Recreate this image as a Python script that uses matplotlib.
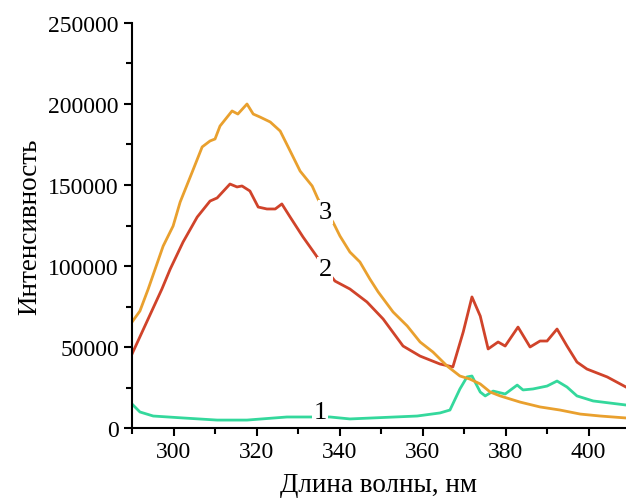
import numpy as np
import matplotlib.pyplot as plt
from matplotlib.ticker import MultipleLocator

plt.rcParams['font.family'] = ['Liberation Serif', 'DejaVu Serif']

# curve 1 (green)
wl1 = [290.0, 291.9, 295.1, 302.3, 310.5, 317.7, 327.3, 332.9, 335.3, 337.7, 342.5,
       358.7, 364.2, 366.6, 369.0, 370.7, 371.9, 373.9, 375.1, 377.0, 379.9, 382.8,
       384.2, 386.6, 390.0, 392.4, 394.8, 397.2, 401.1, 409.0]
int1 = [14800, 9900, 7400, 6200, 4900, 4900, 6800, 6800, 6800, 6800, 5600,
        7400, 9300, 11100, 24100, 31500, 32100, 22200, 19800, 22800, 21000, 26500,
        23500, 24100, 25900, 29000, 25300, 19800, 16700, 14200]

# curve 2 (red)
wl2 = [290.0, 297.2, 299.2, 302.3, 305.7, 308.8, 310.5, 313.6, 315.3, 316.5, 318.4,
       320.4, 322.5, 324.5, 326.1, 328.1, 331.2, 334.1, 336.5, 338.9, 342.5, 346.6,
       350.5, 355.3, 359.4, 364.2, 367.3, 369.8, 371.9, 373.9, 375.8, 378.2, 379.9,
       383.0, 385.9, 388.3, 390.0, 392.4, 394.8, 397.2, 399.6, 404.5, 409.0]
int2 = [45700, 85800, 98100, 114800, 130200, 140100, 142000, 150600, 148800, 149400, 146300,
        136400, 135200, 135200, 138300, 130200, 117900, 107400, 98500, 90700, 85800, 77800,
        67300, 50600, 44400, 39500, 37700, 59300, 80900, 69100, 48800, 53100, 50600,
        62300, 50000, 53700, 53700, 61100, 50600, 40700, 36400, 31500, 25300]

# curve 3 (orange)
wl3 = [290.0, 291.9, 293.9, 297.5, 299.9, 301.6, 304.5, 306.9, 308.8, 310.0, 311.2,
       314.1, 315.5, 317.7, 319.2, 320.8, 323.3, 325.7, 328.1, 330.5, 333.4, 334.8,
       336.5, 338.4, 340.1, 342.5, 344.9, 347.3, 349.3, 352.9, 356.3, 359.4, 362.5,
       365.9, 369.0, 371.4, 373.9, 376.3, 378.7, 383.5, 388.3, 393.1, 398.0, 402.8, 409.0]
int3 = [65400, 72200, 85800, 112300, 124700, 139500, 158000, 173500, 177200, 178400, 186400,
        195700, 193800, 200000, 193800, 192000, 188900, 183300, 171000, 158600, 149400, 141400,
        134000, 127200, 118500, 108600, 102500, 92000, 84000, 71600, 63000, 53100, 46900,
        38300, 32100, 30200, 27200, 22200, 19800, 16000, 13000, 11100, 8600, 7400, 6200]

labels = ['1', '2', '3']
label_pos = [(335.3, 9900), (336.5, 98100), (336.6, 133300)]

fig = plt.figure(figsize=(6.26, 5.02), dpi=100)
ax = fig.add_axes([0.2109, 0.1454, 0.789, 0.8068])

ax.plot(wl1, int1, color='#34d89c', lw=2)
ax.plot(wl2, int2, color='#d0432a', lw=2)
ax.plot(wl3, int3, color='#e9a02e', lw=2)

for txt, (x, y) in zip(labels, label_pos):
    ax.text(x, y, txt, fontsize=19, ha='center', va='center',
            bbox=dict(facecolor='white', edgecolor='none', pad=1.0))

ax.set_xlim(290, 409)
ax.set_ylim(0, 250000)
ax.xaxis.set_major_locator(MultipleLocator(20))
ax.xaxis.set_minor_locator(MultipleLocator(10))
ax.yaxis.set_major_locator(MultipleLocator(50000))
ax.yaxis.set_minor_locator(MultipleLocator(25000))

for s in ['top', 'right']:
    ax.spines[s].set_visible(False)
for s in ['left', 'bottom']:
    ax.spines[s].set_linewidth(1.5)
ax.tick_params(which='major', length=6, width=1.5, labelsize=17, direction='out')
ax.tick_params(which='minor', length=4, width=1.5, direction='out')

ax.set_xlabel('Длина волны, нм', fontsize=19.5, labelpad=7)
ax.set_ylabel('Интенсивность', fontsize=19.5, labelpad=4)

fig.savefig('out.png', dpi=100)
